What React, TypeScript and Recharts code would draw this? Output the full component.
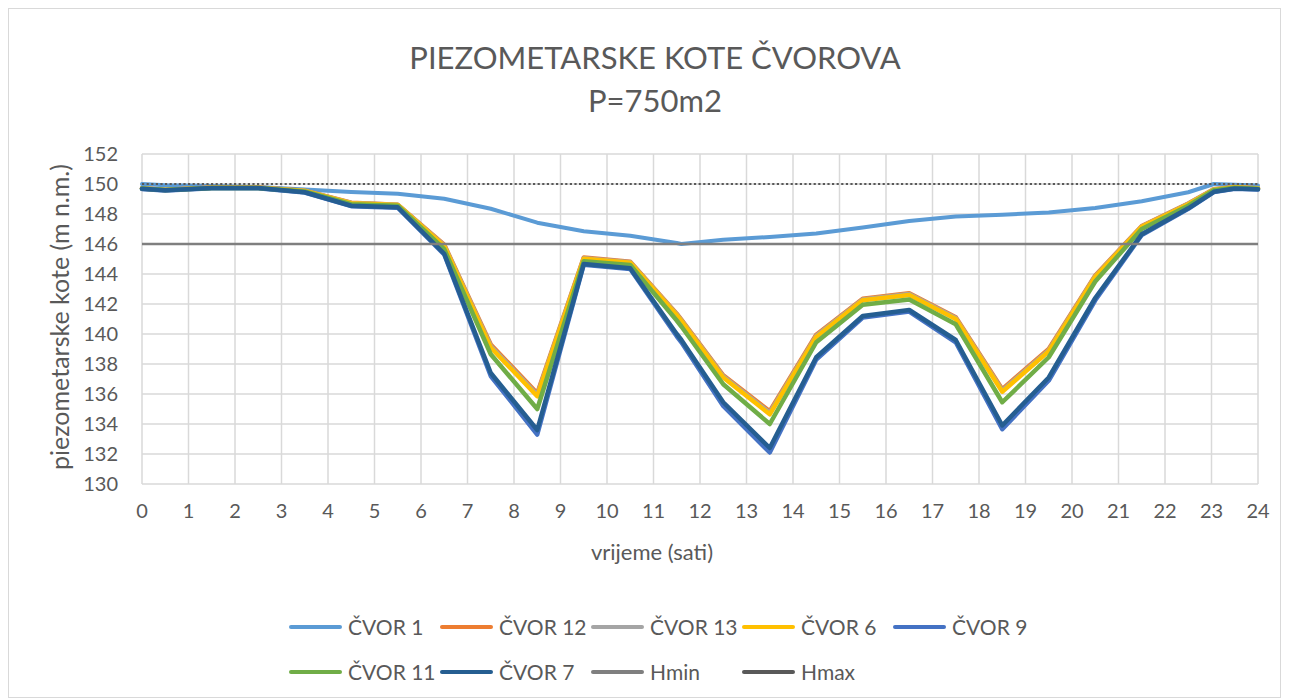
import { LineChart, Line, XAxis, YAxis, CartesianGrid, Legend } from 'recharts'

const FONT = 'Lato, "Open Sans", sans-serif'
const TEXT = '#595959'

// vrijeme (sati) – proračunski koraci
const TIME = [0, 0.5, 1.5, 2.5, 3.5, 4.5, 5.5, 6.5, 7.5, 8.5, 9.5, 10.5, 11.5, 11.6, 12.5, 13.5, 14.5, 15.5, 16.5, 17.5, 18.5, 19.5, 20.5, 21.5, 22.5, 23.05, 23.5, 24]

const CVOR_1 = [150.0, 149.92, 149.86, 149.8, 149.63, 149.47, 149.35, 149.02, 148.35, 147.42, 146.85, 146.55, 146.07, 146.0, 146.28, 146.47, 146.7, 147.1, 147.53, 147.83, 147.95, 148.1, 148.4, 148.85, 149.45, 150.0, 149.95, 149.9]
const CVOR_12 = [149.72, 149.62, 149.76, 149.76, 149.55, 148.75, 148.62, 145.95, 139.3, 136.05, 145.1, 144.82, 141.35, 140.95, 137.25, 134.85, 139.95, 142.35, 142.72, 141.12, 136.32, 139.0, 143.9, 147.2, 148.7, 149.65, 149.8, 149.72]
const CVOR_13 = [149.71, 149.61, 149.75, 149.75, 149.54, 148.73, 148.61, 145.9, 139.2, 135.95, 145.05, 144.78, 141.3, 140.9, 137.18, 134.75, 139.88, 142.3, 142.66, 141.06, 136.24, 138.92, 143.85, 147.17, 148.68, 149.63, 149.79, 149.71]
const CVOR_6 = [149.7, 149.6, 149.75, 149.75, 149.53, 148.72, 148.6, 145.85, 139.1, 135.85, 145.02, 144.75, 141.25, 140.85, 137.1, 134.65, 139.8, 142.25, 142.6, 141.0, 136.15, 138.85, 143.8, 147.15, 148.65, 149.62, 149.78, 149.7]
const CVOR_9 = [149.67, 149.57, 149.72, 149.72, 149.43, 148.52, 148.42, 145.3, 137.2, 133.3, 144.62, 144.33, 139.85, 139.45, 135.2, 132.1, 138.3, 141.1, 141.5, 139.45, 133.65, 136.9, 142.25, 146.6, 148.35, 149.46, 149.68, 149.63]
const CVOR_11 = [149.7, 149.6, 149.74, 149.74, 149.5, 148.65, 148.55, 145.65, 138.65, 135.0, 144.85, 144.6, 140.9, 140.5, 136.65, 134.0, 139.45, 141.95, 142.3, 140.65, 135.45, 138.45, 143.5, 147.0, 148.55, 149.58, 149.75, 149.68]
const CVOR_7 = [149.68, 149.58, 149.73, 149.73, 149.45, 148.55, 148.45, 145.35, 137.4, 133.6, 144.67, 144.38, 140.0, 139.6, 135.45, 132.4, 138.45, 141.2, 141.6, 139.6, 133.9, 137.1, 142.4, 146.65, 148.38, 149.48, 149.7, 149.65]

// granice Hmin / Hmax
const LIMIT_TIME = [0, 24]
const HMIN = [146, 146]
const HMAX = [150, 150]

const X_TICKS = [0, 1, 2, 3, 4, 5, 6, 7, 8, 9, 10, 11, 12, 13, 14, 15, 16, 17, 18, 19, 20, 21, 22, 23, 24]
const Y_TICKS = [130, 132, 134, 136, 138, 140, 142, 144, 146, 148, 150, 152]

const SERIES = [
  { key: 'c1', name: 'ČVOR 1', color: '#5B9BD5', values: CVOR_1, width: 4 },
  { key: 'c12', name: 'ČVOR 12', color: '#ED7D31', values: CVOR_12, width: 4.5 },
  { key: 'c13', name: 'ČVOR 13', color: '#A5A5A5', values: CVOR_13, width: 4.5 },
  { key: 'c6', name: 'ČVOR 6', color: '#FFC000', values: CVOR_6, width: 4.5 },
  { key: 'c9', name: 'ČVOR 9', color: '#4472C4', values: CVOR_9, width: 4.5 },
  { key: 'c11', name: 'ČVOR 11', color: '#70AD47', values: CVOR_11, width: 4.5 },
  { key: 'c7', name: 'ČVOR 7', color: '#255E91', values: CVOR_7, width: 4.5 },
]

const rows = TIME.map((t, i) => {
  const row: Record<string, number> = { t }
  SERIES.forEach(s => { row[s.key] = s.values[i] })
  return row
})
const hminRows = LIMIT_TIME.map((t, i) => ({ t, v: HMIN[i] }))
const hmaxRows = LIMIT_TIME.map((t, i) => ({ t, v: HMAX[i] }))

const LEGEND_ROWS = [
  [
    { name: 'ČVOR 1', color: '#5B9BD5' },
    { name: 'ČVOR 12', color: '#ED7D31' },
    { name: 'ČVOR 13', color: '#A5A5A5' },
    { name: 'ČVOR 6', color: '#FFC000' },
    { name: 'ČVOR 9', color: '#4472C4' },
  ],
  [
    { name: 'ČVOR 11', color: '#70AD47' },
    { name: 'ČVOR 7', color: '#255E91' },
    { name: 'Hmin', color: '#7F7F7F' },
    { name: 'Hmax', color: '#595959' },
  ],
]

const renderLegend = () => (
  <div style={{ paddingLeft: 280, fontFamily: FONT, fontSize: 21, color: TEXT }}>
    {LEGEND_ROWS.map((row, r) => (
      <div key={r} style={{ display: 'flex', height: 45, alignItems: 'center' }}>
        {row.map(item => (
          <div key={item.name} style={{ width: 151, display: 'flex', alignItems: 'center' }}>
            <span style={{ width: 53, height: 4, background: item.color, borderRadius: 2, marginRight: 6 }} />
            <span>{item.name}</span>
          </div>
        ))}
      </div>
    ))}
  </div>
)

const YTitle = ({ viewBox }: any) => {
  const cx = viewBox.x + 50
  const cy = viewBox.y + viewBox.height / 2 - 2
  return (
    <text x={cx} y={cy} transform={`rotate(-90 ${cx} ${cy})`} textAnchor="middle"
      dominantBaseline="central" fill={TEXT} fontSize={25} fontFamily={FONT}>
      piezometarske kote (m n.m.)
    </text>
  )
}

const XTitle = ({ viewBox }: any) => (
  <text x={viewBox.x + viewBox.width / 2 - 48} y={viewBox.y + 67} textAnchor="middle"
    dominantBaseline="central" fill={TEXT} fontSize={22} fontFamily={FONT}>
    vrijeme (sati)
  </text>
)

export default function App() {
  return (
    <div style={{ position: 'relative', width: 1273, height: 690, border: '1px solid #d9d9d9', boxSizing: 'border-box', background: '#fff' }}>
      <div style={{ position: 'absolute', left: 346, top: 28, width: 600, textAlign: 'center', fontFamily: FONT, fontSize: 31, lineHeight: '40px', color: TEXT }}>
        PIEZOMETARSKE KOTE ČVOROVA
      </div>
      <div style={{ position: 'absolute', left: 346, top: 71, width: 600, textAlign: 'center', fontFamily: FONT, fontSize: 31, lineHeight: '40px', color: TEXT }}>
        P=750m2
      </div>
      <LineChart width={1271} height={688} data={rows} margin={{ top: 145, right: 22, bottom: 133, left: 0 }}>
        <CartesianGrid stroke="#d9d9d9" strokeWidth={1.5} />
        <XAxis
          dataKey="t"
          type="number"
          domain={[0, 24]}
          ticks={X_TICKS}
          interval={0}
          height={80}
          axisLine={false}
          tickLine={false}
          tickSize={0}
          tickMargin={20}
          tick={{ fontSize: 20, fill: TEXT, fontFamily: FONT }}
          label={<XTitle />}
        />
        <YAxis
          type="number"
          domain={[130, 152]}
          ticks={Y_TICKS}
          interval={0}
          width={133}
          axisLine={false}
          tickLine={false}
          tickSize={0}
          tickMargin={24}
          tick={{ fontSize: 20, fill: TEXT, fontFamily: FONT }}
          label={<YTitle />}
        />
        {SERIES.map(s => (
          <Line
            key={s.key}
            dataKey={s.key}
            name={s.name}
            stroke={s.color}
            strokeWidth={s.width}
            strokeLinejoin="round"
            strokeLinecap="round"
            dot={false}
            activeDot={false}
            isAnimationActive={false}
          />
        ))}
        <Line data={hminRows} dataKey="v" name="Hmin" stroke="#7F7F7F" strokeWidth={2.5}
          dot={false} activeDot={false} isAnimationActive={false} />
        <Line data={hmaxRows} dataKey="v" name="Hmax" stroke="#595959" strokeWidth={2.2}
          strokeDasharray="2.2 2.4" dot={false} activeDot={false} isAnimationActive={false} />
        <Legend
          content={renderLegend}
          layout="horizontal"
          verticalAlign="middle"
          align="center"
          wrapperStyle={{ top: 595, left: 0, width: 1271, height: 90 }}
        />
      </LineChart>
    </div>
  )
}
